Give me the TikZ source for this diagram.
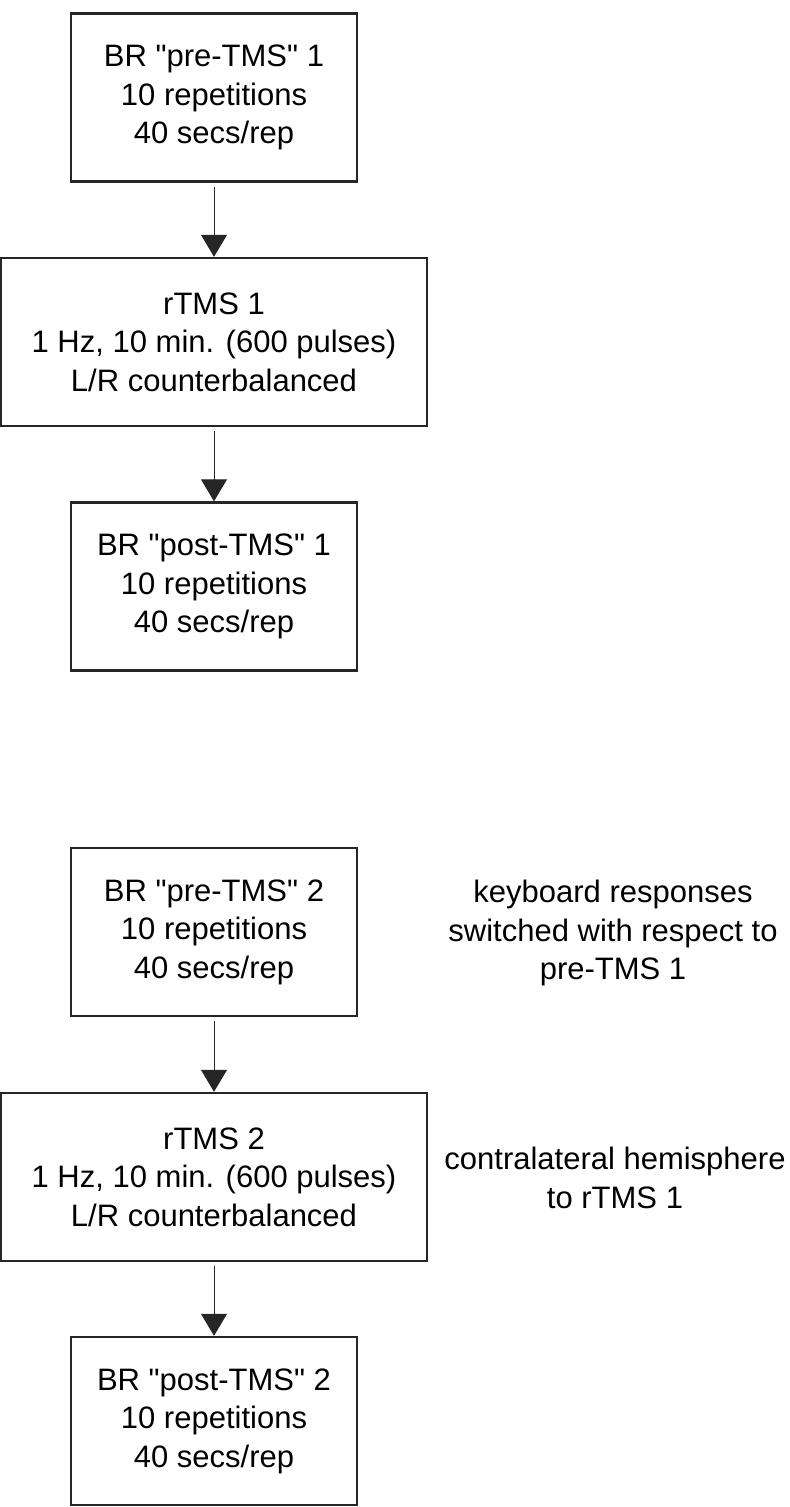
\documentclass[tikz,border=0pt]{standalone}
\usepackage{fontspec}
\setmainfont{Liberation Sans}[Ligatures=TeXOff]
\usetikzlibrary{arrows.meta}

\begin{document}
\begin{tikzpicture}[
    x=0.5pt, y=-0.5pt,
    stage/.style     = {rectangle, draw=black!85, line width=1.2pt,
                        minimum width=142.8pt, minimum height=84pt,
                        inner sep=4pt, align=center,
                        font=\fontsize{15.5}{19.25}\selectfont},
    widestage/.style = {stage, minimum width=212.8pt},
    note/.style      = {align=center, inner sep=0pt,
                        font=\fontsize{15.5}{19.25}\selectfont},
    flow/.style      = {line width=0.5pt, draw=black!85, shorten <=2pt,
                        -{Triangle[length=11pt, width=13pt]}},
]

\useasboundingbox (0,0) rectangle (790,1507);

%% ============================================================
%% SESSION 1
%% ============================================================

\node[stage]     (pre1)  at (214, 97.5)  {BR "pre-TMS" 1\\10 repetitions\\40 secs/rep};
\node[widestage] (rtms1) at (214, 342)   {rTMS 1\\1 Hz, 10 min. (600 pulses)\\L/R counterbalanced};
\node[stage]     (post1) at (214, 586.5) {BR "post-TMS" 1\\10 repetitions\\40 secs/rep};

%% ============================================================
%% SESSION 2
%% ============================================================

\node[stage]     (pre2)  at (214, 932)   {BR "pre-TMS" 2\\10 repetitions\\40 secs/rep};
\node[widestage] (rtms2) at (214, 1177)  {rTMS 2\\1 Hz, 10 min. (600 pulses)\\L/R counterbalanced};
\node[stage]     (post2) at (214, 1421)  {BR "post-TMS" 2\\10 repetitions\\40 secs/rep};

%% side notes
\node[note] (keys)  at (613, 933)  {keyboard responses\\switched with respect to\\pre-TMS 1};
\node[note] (contra) at (615, 1178) {contralateral hemisphere\\to rTMS 1};

%% ============================================================
%% CONNECTIONS
%% ============================================================

\draw[flow] (pre1.south)  -- (rtms1.north);
\draw[flow] (rtms1.south) -- (post1.north);
\draw[flow] (pre2.south)  -- (rtms2.north);
\draw[flow] (rtms2.south) -- (post2.north);

\end{tikzpicture}
\end{document}
